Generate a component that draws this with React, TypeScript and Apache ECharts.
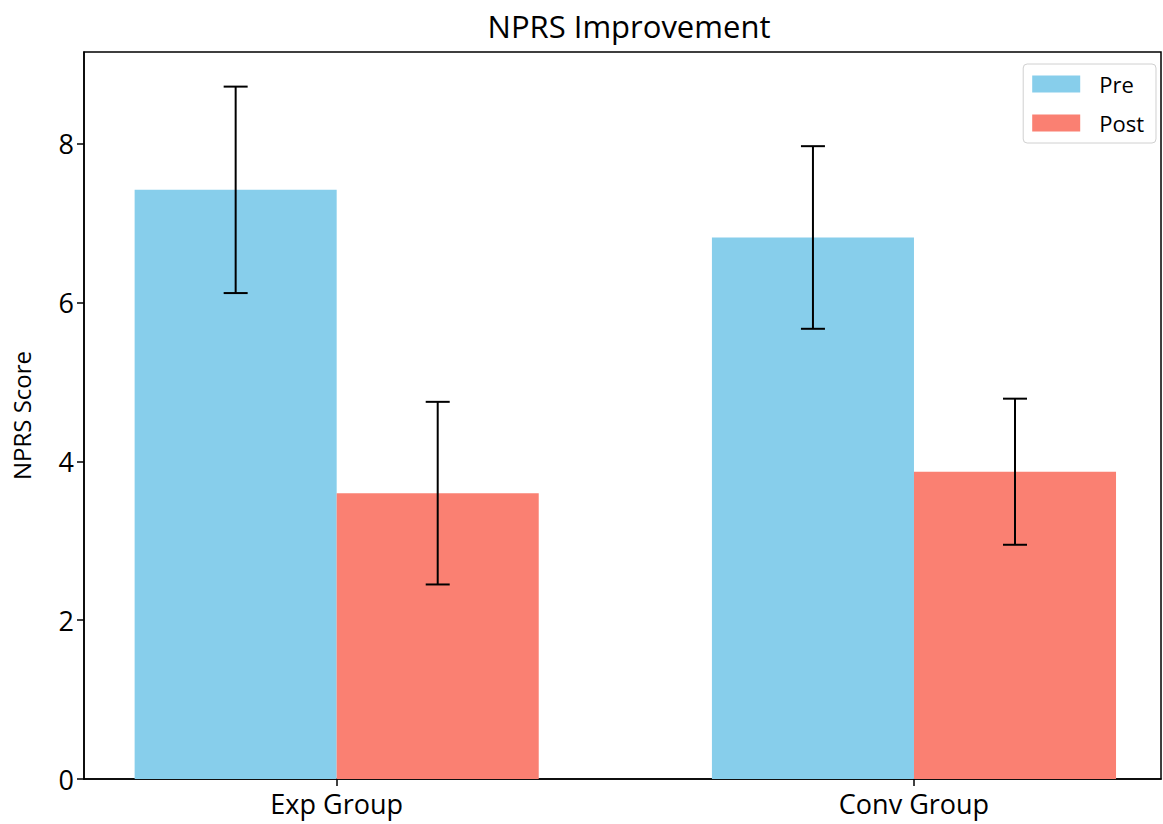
import React, { useEffect, useRef } from "react";
import * as echarts from "echarts";

const categories = ["Exp Group", "Conv Group"];
const preMeans = [7.42, 6.82];
const postMeans = [3.6, 3.87];
const preErr = [1.3, 1.15];
const postErr = [1.15, 0.92];
const yTicks = [0, 2, 4, 6, 8];
const seriesNames = ["Pre", "Post"];
const colors = ["#87CEEB", "#FA8072"];

const BAR_W = 0.35;
const FONT = "'Open Sans', sans-serif";

export default function App() {
  const ref = useRef<HTMLDivElement>(null);
  useEffect(() => {
    if (!ref.current) return;
    const chart = echarts.init(ref.current, undefined, { renderer: "svg" });

    const barRender = (color: string) => (params: any, api: any) => {
      const x = api.value(0);
      const y = api.value(1);
      const p0 = api.coord([x - BAR_W / 2, 0]);
      const p1 = api.coord([x + BAR_W / 2, y]);
      return {
        type: "rect",
        shape: { x: p0[0], y: p1[1], width: p1[0] - p0[0], height: p0[1] - p1[1] },
        style: { fill: color },
      };
    };

    const errRender = (params: any, api: any) => {
      const x = api.value(0);
      const m = api.value(1);
      const e = api.value(2);
      const top = api.coord([x, m + e]);
      const bot = api.coord([x, m - e]);
      const cap = 12;
      const st = { stroke: "#000", lineWidth: 2 };
      return {
        type: "group",
        children: [
          { type: "line", shape: { x1: top[0], y1: top[1], x2: bot[0], y2: bot[1] }, style: st },
          { type: "line", shape: { x1: top[0] - cap, y1: top[1], x2: top[0] + cap, y2: top[1] }, style: st },
          { type: "line", shape: { x1: bot[0] - cap, y1: bot[1], x2: bot[0] + cap, y2: bot[1] }, style: st },
        ],
      };
    };

    const means = [preMeans, postMeans];
    const errs = [preErr, postErr];
    const offsets = [-BAR_W / 2, BAR_W / 2];

    const barSeries = seriesNames.map((name, s) => ({
      type: "custom",
      name,
      renderItem: barRender(colors[s]),
      itemStyle: { color: colors[s] },
      encode: { x: 0, y: 1 },
      data: categories.map((_, i) => [i + offsets[s], means[s][i]]),
      z: 2,
    }));
    const errSeries = seriesNames.map((name, s) => ({
      type: "custom",
      renderItem: errRender,
      encode: { x: 0, y: [1] },
      data: categories.map((_, i) => [i + offsets[s], means[s][i], errs[s][i]]),
      z: 3,
    }));

    chart.setOption({
      animation: false,
      backgroundColor: "#fff",
      title: {
        text: "NPRS Improvement",
        left: 624,
        textAlign: "center",
        top: 5,
        textStyle: { fontFamily: FONT, fontSize: 31, fontWeight: "normal", color: "#000" },
      },
      legend: {
        right: 7,
        top: 64,
        orient: "vertical",
        icon: "rect",
        itemWidth: 48,
        itemHeight: 17,
        itemGap: 17,
        padding: [9, 12, 9, 9],
        borderColor: "#d0d0d0",
        borderWidth: 1,
        borderRadius: 4,
        textStyle: { fontFamily: FONT, fontSize: 22, color: "#000", padding: [0, 0, 0, 14] },
        data: seriesNames.map((n, s) => ({ name: n, itemStyle: { color: colors[s] } })),
        selectedMode: false,
      },
      grid: {
        left: 84,
        right: 2,
        top: 52,
        bottom: 45,
        show: true,
        borderColor: "#000",
        borderWidth: 1.5,
        backgroundColor: "transparent",
        containLabel: false,
        outerBoundsMode: "none",
      },
      xAxis: {
        type: "value",
        min: -0.4377,
        max: 1.4279,
        splitLine: { show: false },
        axisLine: { show: true, lineStyle: { color: "#000", width: 1.5 } },
        axisTick: { show: true, length: 7, customValues: [0, 1], lineStyle: { color: "#000", width: 1.5 } },
        axisLabel: {
          customValues: [0, 1],
          formatter: (v: number) => categories[Math.round(v)] ?? "",
          fontFamily: FONT,
          fontSize: 27,
          color: "#000",
          margin: 11,
        },
      },
      yAxis: {
        type: "value",
        min: 0,
        max: 9.156,
        name: "NPRS Score",
        nameLocation: "middle",
        nameGap: 51,
        nameTextStyle: { fontFamily: FONT, fontSize: 24, color: "#000" },
        splitLine: { show: false },
        axisLine: { show: true, onZero: false, lineStyle: { color: "#000", width: 1.5 } },
        axisTick: { show: true, length: 7, customValues: yTicks, lineStyle: { color: "#000", width: 1.5 } },
        axisLabel: {
          customValues: yTicks,
          fontFamily: FONT,
          fontSize: 27,
          color: "#000",
          margin: 10,
        },
      },
      series: [...barSeries, ...errSeries],
    });

    return () => chart.dispose();
  }, []);

  return (
    <div
      ref={ref}
      style={{ position: "fixed", left: 0, top: 0, width: 1163, height: 824, background: "#fff" }}
    />
  );
}
